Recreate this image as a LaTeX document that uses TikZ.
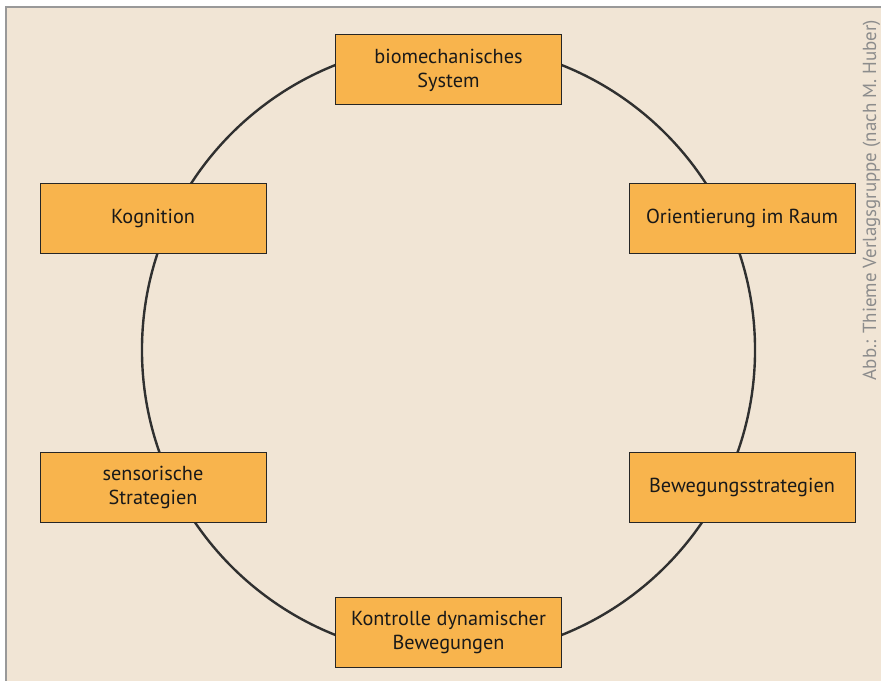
\documentclass[tikz,border=0pt]{standalone}
\usepackage{fontspec}
\setmainfont{PT Sans}
\begin{document}
\begin{tikzpicture}[x=0.75pt,y=-0.75pt,
  box/.style={draw=black!85,line width=0.75pt,fill=boxfill,minimum width=169.5pt,minimum height=52.5pt,
    inner sep=0pt,align=center,font=\fontsize{15.2}{18}\selectfont,text=black!90},
  ring/.style={draw=ringcol,line width=1.8pt}]
\definecolor{bg}{HTML}{F1E5D5}
\definecolor{boxfill}{HTML}{F8B44D}
\definecolor{ringcol}{HTML}{303030}
\useasboundingbox (0,0) rectangle (881,681);
\fill[white] (0,0) rectangle (881,681);
\fill[bg] (6,7) rectangle (881,681);
\draw[gray!80,line width=1.2pt] (6,681) -- (6,7) -- (881,7);
\coordinate (c) at (448.5,350);
\draw[ring] (c) circle[radius=229.9pt];
\node[box] (bio) at (448.5,70) {biomechanisches\\System};
\node[box] (kog) at (153,218) {Kognition};
\node[box] (ori) at (742,218) {Orientierung im Raum};
\node[box] (sen) at (153,487) {sensorische\\Strategien};
\node[box] (bew) at (742,487) {Bewegungsstrategien};
\node[box] (kon) at (448.5,632) {Kontrolle dynamischer\\Bewegungen};
\node[rotate=90,text=black!45,font=\fontsize{14.2}{16}\selectfont,inner sep=0pt] (src) at (871.5,200) {Abb.: Thieme Verlagsgruppe (nach M. Huber)};
\end{tikzpicture}
\end{document}
